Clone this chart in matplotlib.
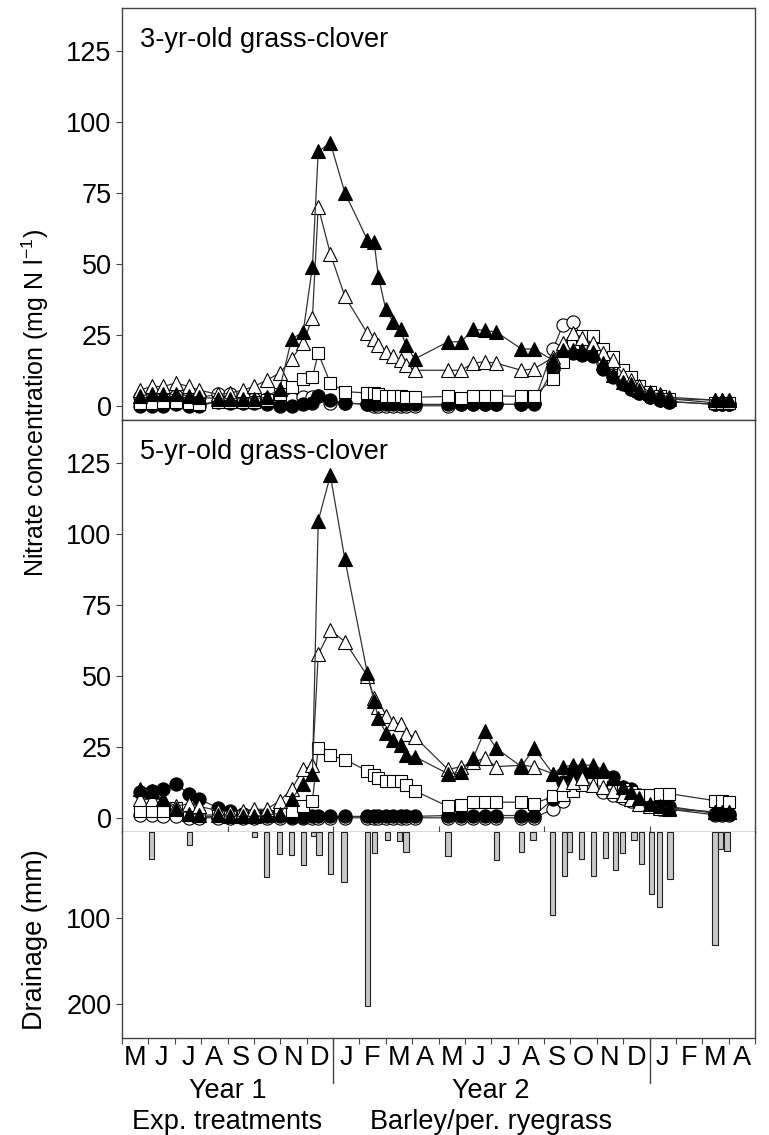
import numpy as np
import matplotlib
matplotlib.use('Agg')
import matplotlib.pyplot as plt
import matplotlib.transforms as mtransforms

plt.rcParams['font.family'] = ['Liberation Sans', 'DejaVu Sans']
plt.rcParams['mathtext.fontset'] = 'custom'
plt.rcParams['mathtext.rm'] = 'Liberation Sans'
plt.rcParams['mathtext.default'] = 'regular'

# sampling dates, months since 1 May of year 1
dates = [0.68, 1.12, 1.57, 2.03, 2.54, 2.93, 3.65, 4.1, 4.57, 5.01, 5.48, 5.98,
         6.43, 6.87, 7.22, 7.44, 7.9, 8.45, 9.3, 9.56, 9.72, 10.0, 10.28, 10.56,
         10.75, 11.1, 12.36, 12.86, 13.31, 13.75, 14.19, 15.14, 15.62, 16.34, 16.72, 17.1,
         17.45, 17.85, 18.23, 18.61, 18.99, 19.3, 19.6, 20.0, 20.4, 20.75, 22.5, 22.75, 23.0]

# 3-yr-old grass-clover (mg N/l)
oc3 = [3, 3, 3, 3.5, 3, 3, 4, 4, 3, 2.5, 2.5, 2,
       2.5, 3, 3, 3.5, 1, 1, 0.5, 0, 0, 0, 0, 0,
       0, 0, 0, 0.5, 0.5, 0.5, 0.5, 0.5, 1, 20, 28.5, 29.5,
       24, 20, 15, 11, 8, 6, 4.5, 3, 2, 1.5, 0.5, 0.5, 0.5]
fc3 = [0, 0, 0, 0.5, 0, 0, 1.5, 1, 1, 1, 0.5, 0,
       0, 0.5, 1, 3.5, 2, 1, 0.5, 0.5, 0.5, 0.5, 0.5, 0.5,
       0.5, 0.5, 0.5, 0.5, 0.5, 0.5, 0.5, 0.5, 0.5, 13, 18, 18.5,
       18, 17.5, 13, 10, 7.5, 6, 4.5, 3, 2, 1.5, 0.5, 0.5, 0.5]
os3 = [1, 1, 1.5, 1.5, 1, 0.5, 1.5, 1.5, 1.5, 1.5, 2, 4,
       6.5, 9.5, 10, 18.5, 8, 5, 4.5, 4.5, 4, 3.5, 3.5, 3.5,
       3, 3, 3.3, 2.7, 3.5, 3.5, 3.5, 3.3, 3.5, 9.5, 15.5, 22,
       24.5, 24.5, 20, 17, 12.5, 10, 7, 5, 3.5, 2.5, 1, 1, 1]
ot3 = [5.5, 6.8, 6.8, 8, 6.8, 5.5, 4, 4.5, 5.5, 6.8, 9, 11.5,
       16.5, 22, 31, 70, 53.5, 38.5, 25.5, 23.5, 21.5, 19, 17.5, 16,
       14.5, 12.5, 12.5, 12.5, 15, 15.5, 15, 12.5, 13, 17, 22, 25.5,
       24, 22, 18.5, 16, 11, 9, 7, 5, 4, 3, 2, 2, 2]
ft3 = [3.5, 4, 4, 4, 3.5, 3, 2.5, 2.5, 2.5, 2.5, 3, 6,
       23.5, 26, 49, 89.5, 92.5, 75, 58.5, 57.5, 45.5, 34, 29.5, 27,
       21.5, 16.5, 22.5, 22.5, 27, 26.5, 26, 20, 20, 16, 19.5, 19.5,
       19.5, 19, 15, 11, 8.5, 7.5, 5.5, 4.5, 3.5, 2.5, 2, 2, 2]

# 5-yr-old grass-clover (mg N/l)
oc5 = [1, 1, 0.5, 0.5, 0, 0, 0, 0, 0, 0, 0, 0,
       0, 0, 0, 0, 0, 0, 0, 0, 0, 0, 0, 0,
       0, 0, 0, 0, 0, 0, 0, 0, 0, 3, 6, 10,
       13, 13, 9, 8, 7, 6, 5, 4, 3, 3, 1, 1, 1]
fc5 = [9, 9.5, 10, 12, 8.5, 6.5, 3.5, 2.5, 1.5, 0.8, 0.5, 0.5,
       0.3, 0.3, 0.5, 0.5, 0.5, 0.5, 0.5, 0.5, 0.5, 0.5, 0.5, 0.5,
       0.5, 0.5, 0.8, 0.8, 0.8, 0.8, 0.8, 0.8, 0.8, 6.5, 12.5, 14.5,
       15, 15.5, 15, 14.5, 11, 10, 8, 5.5, 4.5, 4, 1.5, 1.5, 1.5]
os5 = [2.5, 2.5, 2.5, 3.5, 1, 0.5, 0.5, 0.5, 0.5, 0.5, 0.5, 2,
       2.5, 4, 6, 24.5, 22, 20.5, 16.5, 15, 14, 13, 13, 13,
       11.5, 9.5, 4, 4.5, 5.5, 5.5, 5.5, 5.5, 5, 7.5, 8, 9.5,
       11.5, 12, 12, 11, 10, 9, 8, 8, 8.5, 8.5, 6, 6, 5.5]
ot5 = [6.5, 6.5, 6.5, 4, 5, 4, 2.5, 2, 2.5, 3, 3, 6,
       10, 17, 18.5, 57.5, 66, 62, 50, 42, 39, 36, 33.5, 33,
       29.5, 28.5, 17, 18, 19.5, 21, 18, 18.5, 18, 15.5, 12, 12.5,
       14, 11.5, 11, 9.5, 8, 6.5, 5, 4, 3.5, 3, 2, 2, 2]
ft5 = [10, 9.5, 6.5, 3, 1.5, 1, 1, 0.5, 0.5, 0.5, 1, 1.5,
       6.5, 12, 15.5, 104.5, 120.5, 91, 51, 41, 35, 30, 27.5, 25.5,
       22, 21.5, 15.5, 16, 21, 30.5, 24.5, 18, 24.5, 15.5, 18, 18.5,
       18.5, 18.5, 17, 14, 11, 9, 7, 5, 4, 3.5, 2, 2, 2]

# drainage events (mm)
drain_dates = [1.11, 2.55, 5.01, 5.49, 5.96, 6.43, 6.87, 7.25, 7.47, 7.9, 8.42, 9.31,
               9.56, 10.06, 10.53, 10.77, 12.36, 14.19, 15.15, 15.58, 16.33, 16.77, 16.97, 17.43,
               17.89, 18.32, 18.71, 18.99, 19.41, 19.69, 20.08, 20.39, 20.78, 22.48, 22.68, 22.94]
drain_mm = [31, 15, 6, 53, 26, 27, 38, 5, 27, 49, 58, 203,
            24, 9, 10, 23, 28, 33, 23, 9, 97, 51, 23, 32,
            51, 30, 44, 25, 9, 37, 72, 87, 55, 132, 20, 22]

month_letters = list('MJJASONDJFMAMJJASONDJFMA')
year_labels = ['Year 1', 'Year 2']
period_labels = ['Exp. treatments', 'Barley/per. ryegrass']

fs = 19.5
frame_col = '#444444'

fig = plt.figure(figsize=(7.69, 11.35), dpi=100)
L, W = 122 / 769, 633 / 769
ax_top = fig.add_axes([L, 1 - 420 / 1135, W, 412 / 1135])
ax_mid = fig.add_axes([L, 1 - 832 / 1135, W, 412 / 1135])
ax_dr = fig.add_axes([L, 1 - 1038 / 1135, W, 206 / 1135])

styles = [  # marker, face, size
    ('o', 'white', 9.5),
    ('o', 'black', 9.5),
    ('s', 'white', 9.0),
    ('^', 'white', 10.5),
    ('^', 'black', 10.5),
]


def draw_panel(ax, series, title):
    for (m, fc, ms), y in zip(styles, series):
        ax.plot(dates, y, color='#333333', lw=0.9, marker=m, ms=ms,
                mfc=fc, mec='black', mew=0.8, clip_on=False)
    ax.set_xlim(0, 24)
    ax.set_ylim(-5, 140)
    ax.set_yticks([0, 25, 50, 75, 100, 125])
    ax.tick_params(axis='y', direction='out', length=4, width=0.8,
                   color=frame_col, labelsize=fs)
    ax.tick_params(axis='x', bottom=False, labelbottom=False)
    for sp in ax.spines.values():
        sp.set_color(frame_col)
        sp.set_linewidth(1.0)
    ax.text(0.028, 0.955, title, transform=ax.transAxes, ha='left', va='top',
            fontsize=fs)


draw_panel(ax_top, [oc3, fc3, os3, ot3, ft3], '3-yr-old grass-clover')
draw_panel(ax_mid, [oc5, fc5, os5, ot5, ft5], '5-yr-old grass-clover')
ax_mid.set_xticks(range(0, 25, 4))
ax_mid.tick_params(axis='x', bottom=True, direction='in', length=4,
                   width=0.8, color=frame_col, labelbottom=False)

# drainage bars hanging from the top
ax_dr.bar(drain_dates, drain_mm, width=0.2, color='#c8c8c8',
          edgecolor='#222222', linewidth=0.8, align='center')
ax_dr.set_xlim(0, 24)
ax_dr.set_ylim(240, 0)
ax_dr.set_yticks([100, 200])
ax_dr.tick_params(axis='y', direction='out', length=4, width=0.8,
                  color=frame_col, labelsize=fs)
ax_dr.spines['top'].set_visible(False)
for sp in ['left', 'right', 'bottom']:
    ax_dr.spines[sp].set_color(frame_col)
    ax_dr.spines[sp].set_linewidth(1.0)

ax_dr.set_xticks(range(25))
ax_dr.set_xticklabels([])
ax_dr.set_xticks(np.arange(24) + 0.5, minor=True)
ax_dr.set_xticklabels(month_letters, minor=True, fontsize=fs)
ax_dr.tick_params(axis='x', which='major', direction='out', length=4,
                  width=0.8, color=frame_col)
ax_dr.tick_params(axis='x', which='minor', length=0, pad=5)

# year separators and labels below the month letters
trans = mtransforms.blended_transform_factory(ax_dr.transData, ax_dr.transAxes)
for xs in [8, 20]:
    ax_dr.plot([xs, xs], [0, -0.218], transform=trans, color=frame_col,
               lw=1.0, clip_on=False)
for xc, yl, pl in zip([4, 14], year_labels, period_labels):
    ax_dr.text(xc, -0.291, yl, transform=trans, ha='center', va='baseline',
               fontsize=fs)
    ax_dr.text(xc, -0.442, pl, transform=trans, ha='center', va='baseline',
               fontsize=fs)

fig.text(35 / 769, 1 - 403 / 1135, r'Nitrate concentration (mg N l$^{-1}$)',
         rotation=90, ha='center', va='center', fontsize=18)
fig.text(35 / 769, 1 - 940 / 1135, 'Drainage (mm)',
         rotation=90, ha='center', va='center', fontsize=fs)

fig.savefig('out.png', dpi=100)
